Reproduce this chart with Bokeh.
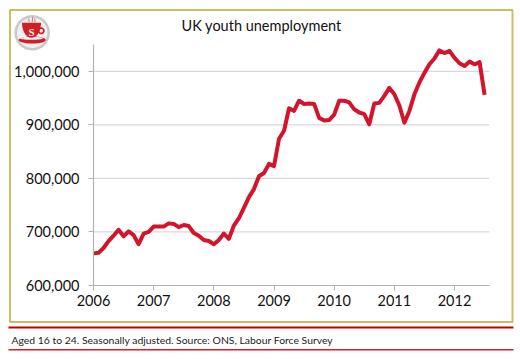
import numpy as np
from bokeh.plotting import figure
from bokeh.embed import file_html
from bokeh.resources import INLINE
from bokeh.layouts import column
from bokeh.core.properties import value
from bokeh.models import FixedTicker, Range1d, NumeralTickFormatter, Span

TITLE = "UK youth unemployment"
FOOTNOTE = "Aged 16 to 24. Seasonally adjusted. Source: ONS, Labour Force Survey"
year_ticks = [2006, 2007, 2008, 2009, 2010, 2011, 2012]
value_ticks = [600000, 700000, 800000, 900000, 1000000]
grid_values = [700000, 800000, 900000, 1000000]

y2006 = [660, 661, 670, 683, 693, 704, 692, 701, 694, 677, 697, 700]
y2007 = [710, 710, 710, 716, 715, 709, 713, 711, 698, 693, 685, 683]
y2008 = [677, 685, 697, 687, 712, 726, 745, 765, 780, 804, 810, 827]
y2009 = [823, 874, 889, 931, 926, 945, 939, 940, 939, 913, 908, 909]
y2010 = [919, 945, 945, 942, 929, 923, 920, 901, 940, 941, 954, 969]
y2011 = [957, 936, 904, 926, 957, 979, 997, 1013, 1024, 1039, 1034, 1038]
y2012 = [1025, 1015, 1010, 1018, 1013, 1017, 956]

thousands = y2006 + y2007 + y2008 + y2009 + y2010 + y2011 + y2012
values = [v * 1000 for v in thousands]
dates = [2006 + i / 12 for i in range(len(values))]

FONT = "Lato"
W, H = 514, 352
FL, FR, FT, FB = 93, 489, 44, 285  # frame edges in page pixels

p = figure(width=W, height=H, output_backend="svg", toolbar_location=None, frame_align=False,
           x_range=Range1d(2006, 2006 + 396 / 60.17), y_range=Range1d(600000, 1050000),
           min_border_left=FL, min_border_right=W - FR, min_border_top=FT, min_border_bottom=H - FB)
p.outline_line_color = None
p.background_fill_color = "white"
p.xgrid.visible = False
p.ygrid.visible = False

for g in grid_values:
    p.add_layout(Span(location=g, dimension="width", line_color="#d9d9d9", line_width=1.3, level="underlay"))

p.line(dates, values, line_color="#d2152d", line_width=4, line_join="round")

for ax, ticks in ((p.xaxis[0], year_ticks), (p.yaxis[0], value_ticks)):
    ax.ticker = FixedTicker(ticks=ticks)
    ax.axis_line_color = "#b3b3b3"
    ax.axis_line_width = 1.2
    ax.major_tick_line_color = "#b3b3b3"
    ax.major_tick_out = 5
    ax.major_tick_in = 0
    ax.minor_tick_line_color = None
    ax.major_label_text_font = FONT
    ax.major_label_text_font_size = "14.5px"
    ax.major_label_text_color = "#111111"
p.yaxis[0].formatter = NumeralTickFormatter(format="0,0")
p.yaxis[0].major_label_standoff = 9
p.xaxis[0].major_label_standoff = 4
p.xaxis[0].formatter = NumeralTickFormatter(format="0")

# transparent page-sized layer for the frame, rules, title, footnote and logo
o = figure(width=W, height=H, output_backend="svg", toolbar_location=None, frame_align=False,
           x_range=Range1d(0, W), y_range=Range1d(H, 0), x_axis_type=None, y_axis_type=None,
           min_border=0, min_border_left=0, min_border_right=0, min_border_top=0, min_border_bottom=0,
           margin=(-H, 0, 0, 0))
o.outline_line_color = None
o.background_fill_color = None
o.border_fill_color = None
o.grid.visible = False

o.quad(left=[9.5], right=[512], top=[9.5], bottom=[321.5], fill_color=None, line_color="#cdbb67", line_width=2)
o.quad(left=[8], right=[513], top=[326], bottom=[328], fill_color="#c00000", line_color=None)
o.quad(left=[8], right=[513], top=[348.5], bottom=[350], fill_color="#d4202a", line_color=None)

o.text(x=[181], y=[25], text=[TITLE], text_font=value(FONT), text_font_size="14.5px",
       text_color="#111111", text_baseline="middle")
o.text(x=[11], y=[339], text=[FOOTNOTE], text_font=value(FONT), text_font_size="10.4px",
       text_color="#222222", text_baseline="middle")

t = np.linspace(0, 2 * np.pi, 60)
a = np.linspace(0, np.pi, 30)
cx, cy = 31.7, 32.3
def blob(xs, ys, color):
    o.patch(list(xs), list(ys), fill_color=color, line_color=None)

blob(cx + 17.7 * np.cos(t), cy + 17.7 * np.sin(t), "#c9c9c9")
blob(cx + 15.2 * np.cos(t), cy + 15.2 * np.sin(t), "#f0f0f0")
blob(cx + 13.5 * np.cos(t), cy + 7.2 + 3.6 * np.sin(t), "#cf2027")
blob(cx + 9 + 3.5 * np.cos(t), cy - 2 + 3.5 * np.sin(t), "#cf2027")
blob(cx + 9 + 1.8 * np.cos(t), cy - 2 + 1.8 * np.sin(t), "#f0f0f0")
blob(cx - 0.7 + 11.5 * np.cos(t), cy + 5.5 + 1.5 * np.sin(t), "#f0f0f0")
blob(cx - 0.7 + 9.5 * np.cos(a), cy - 10 + 15 * np.sin(a), "#cf2027")
o.segment(x0=[cx - 3, cx, cx + 3], y0=[cy - 10.5] * 3, x1=[cx - 3.5, cx + 0.5, cx + 2.5], y1=[cy - 14.5, cy - 16, cy - 14.5],
          line_color="#d9767a", line_width=1)
o.text(x=[cx - 0.7], y=[cy - 0.5], text=["S"], text_font=value("Liberation Serif"), text_font_style="bold",
       text_font_size="11px", text_color="#f5e6e6", text_align="center", text_baseline="middle")

page = column(p, o, spacing=0)
open("out.html", "w").write(file_html(page, INLINE))
